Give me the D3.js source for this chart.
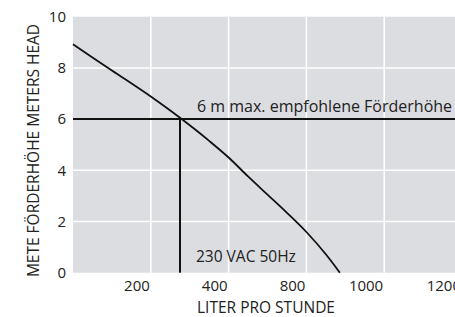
<!DOCTYPE html>
<html><head><meta charset="utf-8">
<script src="https://cdn.jsdelivr.net/npm/d3@7"></script>
<style>
body{margin:0;background:#fff;}
text{font-family:"Open Sans",sans-serif;fill:#222;}
</style></head>
<body><svg id="c" width="455" height="317"></svg>
<script>
// Data
const curveLiters = [0, 100, 200, 275, 350, 400, 450, 500, 550, 600, 650, 686];
const curveHead   = [8.92, 7.9, 6.88, 6.05, 5.15, 4.5, 3.76, 3.05, 2.34, 1.59, 0.72, 0];
const xTickValues = [200, 400, 600, 800, 1000];
const xTickLabels = ["200", "400", "800", "1000", "1200"];
const yTickValues = [0, 2, 4, 6, 8, 10];
const maxHead = 6;
const maxHeadFlow = 275;
const maxHeadLabel = "6 m max. empfohlene Förderhöhe";
const voltageLabel = "230 VAC 50Hz";
const xTitle = "LITER PRO STUNDE";
const yTitle = "METE FÖRDERHÖHE METERS HEAD";

const svg = d3.select("#c");
const x = d3.scaleLinear().domain([0, 1000]).range([73, 462]);
const y = d3.scaleLinear().domain([0, 10]).range([272.7, 16.7]);

// plot background
svg.append("rect").attr("x", x(0)).attr("y", y(10))
  .attr("width", x(1000) - x(0)).attr("height", y(0) - y(10)).attr("fill", "#dcdde0");

// grid
svg.append("g").selectAll("line").data(xTickValues).join("line")
  .attr("x1", d => x(d)).attr("x2", d => x(d)).attr("y1", y(0)).attr("y2", y(10))
  .attr("stroke", "#fff").attr("stroke-width", 1.5);
svg.append("g").selectAll("line").data(yTickValues.filter(v => v > 0 && v < 10)).join("line")
  .attr("x1", x(0)).attr("x2", x(1000)).attr("y1", d => y(d)).attr("y2", d => y(d))
  .attr("stroke", "#fff").attr("stroke-width", 1.5);

// tick labels
svg.append("g").selectAll("text").data(yTickValues).join("text")
  .attr("x", 66).attr("y", d => y(d)).attr("dy", "0.35em").attr("text-anchor", "end")
  .attr("font-size", 15).text(d => d);
svg.append("g").selectAll("text").data(xTickValues).join("text")
  .attr("x", d => x(d) - 1).attr("y", 286).attr("dy", "0.35em").attr("text-anchor", "end")
  .attr("font-size", 15).text((d, i) => xTickLabels[i]);

// max head line
svg.append("line").attr("x1", x(0)).attr("x2", x(1000)).attr("y1", y(maxHead)).attr("y2", y(maxHead))
  .attr("stroke", "#111").attr("stroke-width", 2);
svg.append("line").attr("x1", x(maxHeadFlow)).attr("x2", x(maxHeadFlow)).attr("y1", y(maxHead)).attr("y2", y(0))
  .attr("stroke", "#111").attr("stroke-width", 2);

// curve
const pts = curveLiters.map((v, i) => [v, curveHead[i]]);
svg.append("path").datum(pts)
  .attr("d", d3.line().x(d => x(d[0])).y(d => y(d[1])).curve(d3.curveMonotoneX))
  .attr("fill", "none").attr("stroke", "#111").attr("stroke-width", 1.8);

// annotations
svg.append("text").attr("x", 197).attr("y", y(maxHead) - 7).attr("font-size", 16).text(maxHeadLabel);
svg.append("text").attr("x", 196).attr("y", 262).attr("font-size", 15.5).text(voltageLabel);

// axis titles
svg.append("text").attr("x", 266).attr("y", 308).attr("dy", "0.35em").attr("text-anchor", "middle")
  .attr("font-size", 15.5).text(xTitle);
svg.append("text").attr("transform", "translate(34,150.5) rotate(-90)").attr("dy", "0.35em")
  .attr("text-anchor", "middle").attr("font-size", 15.5).text(yTitle);
</script></body></html>
